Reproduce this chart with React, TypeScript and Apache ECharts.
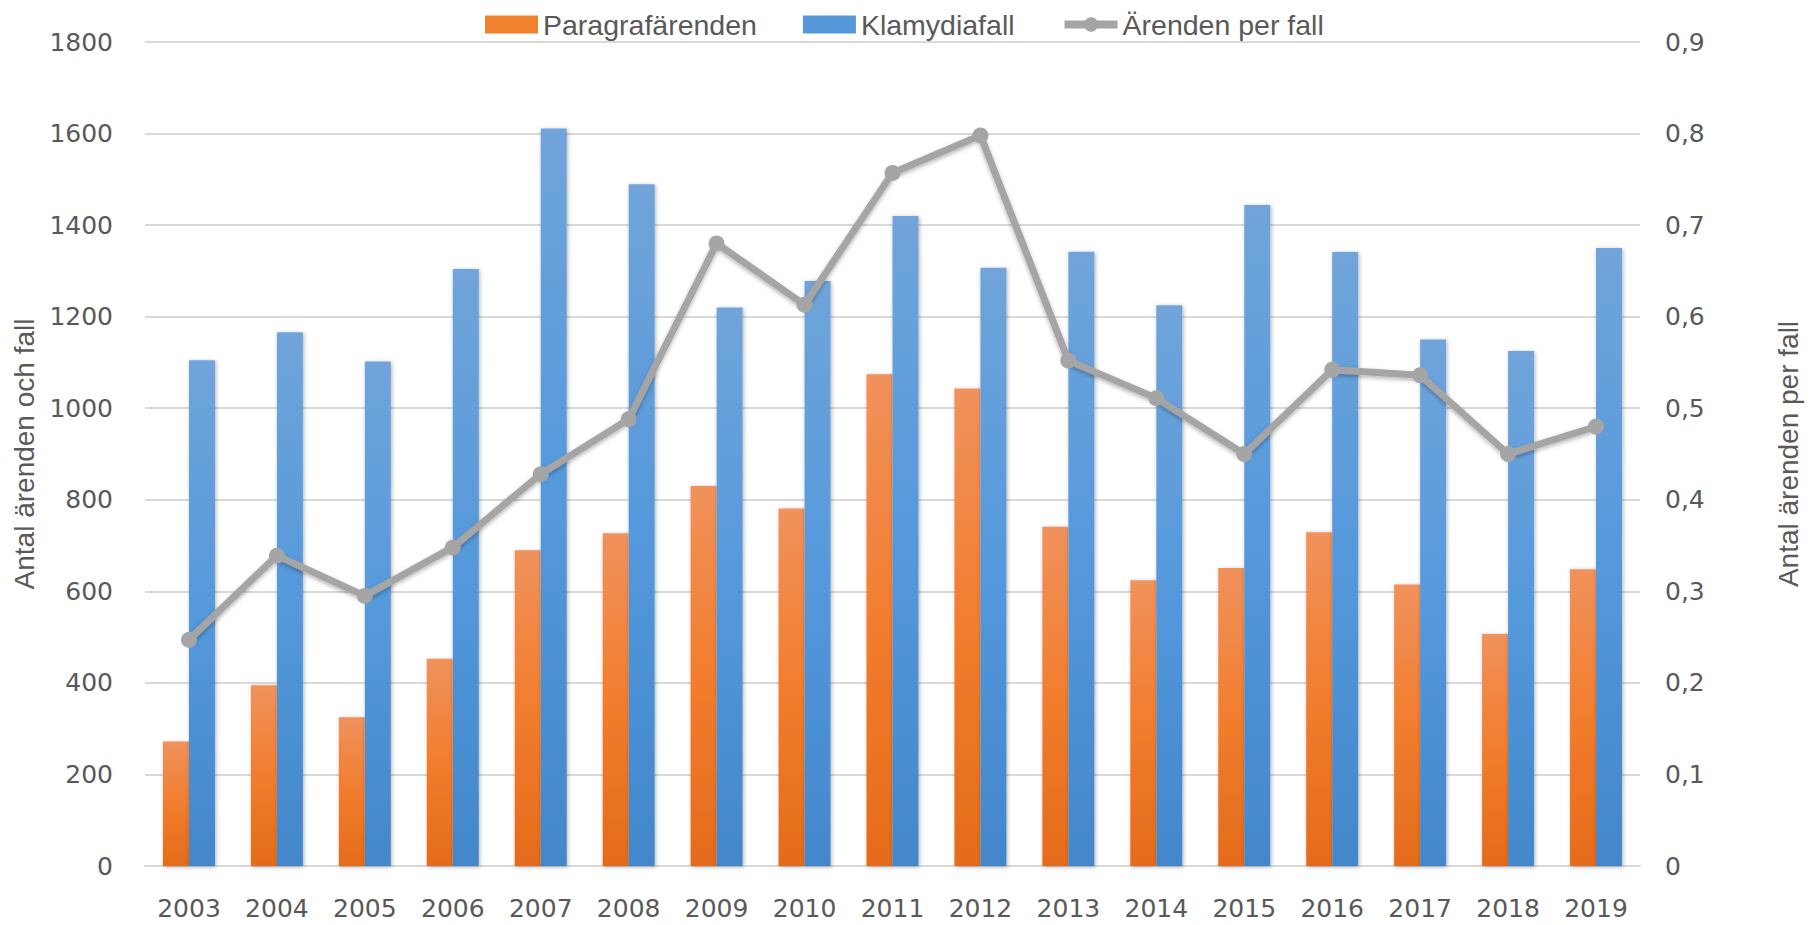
import React, { useEffect, useRef } from "react";
import * as echarts from "echarts";

const years = ["2003","2004","2005","2006","2007","2008","2009","2010","2011","2012","2013","2014","2015","2016","2017","2018","2019"];
const paragrafarenden = [272, 395, 325, 453, 690, 727, 830, 781, 1074, 1043, 741, 624, 651, 729, 615, 507, 648];
const klamydiafall = [1105, 1166, 1102, 1304, 1611, 1489, 1220, 1278, 1420, 1307, 1342, 1225, 1444, 1341, 1150, 1125, 1350];
const arendenPerFall = [0.247, 0.339, 0.295, 0.348, 0.428, 0.488, 0.680, 0.613, 0.757, 0.798, 0.552, 0.511, 0.450, 0.542, 0.536, 0.450, 0.480];

const labelColor = "#595959";
const gridColor = "#D9D9D9";
const narrowFont = "Liberation Sans Narrow, Liberation Sans, sans-serif";

export default function App() {
  const ref = useRef<HTMLDivElement>(null);
  useEffect(() => {
    if (!ref.current) return;
    const chart = echarts.init(ref.current, null, { renderer: "svg" });
    const orangeGrad = new echarts.graphic.LinearGradient(0, 0, 0, 1, [
      { offset: 0, color: "#F0925C" },
      { offset: 0.5, color: "#F27D2E" },
      { offset: 1, color: "#E46B1A" },
    ]);
    const blueGrad = new echarts.graphic.LinearGradient(0, 0, 0, 1, [
      { offset: 0, color: "#70A4DA" },
      { offset: 0.5, color: "#5599DC" },
      { offset: 1, color: "#4387CB" },
    ]);
    chart.setOption({
      animation: false,
      backgroundColor: "#FFFFFF",
      legend: {
        top: 5,
        left: 480,
        itemWidth: 53,
        itemHeight: 18,
        itemGap: 46,
        textStyle: { fontFamily: narrowFont, fontSize: 28.5, color: labelColor },
        data: [
          { name: "Paragrafärenden", icon: "rect", itemStyle: { color: "#F0812E" } },
          { name: "Klamydiafall", icon: "rect", itemStyle: { color: "#5597D8" } },
          { name: "Ärenden per fall", lineStyle: { width: 8, color: "#A5A5A5" }, itemStyle: { color: "#A5A5A5" } },
        ],
      },
      grid: { left: 145, right: 173, top: 42, bottom: 59, containLabel: false, outerBoundsMode: "none" },
      xAxis: {
        type: "category",
        data: years,
        axisLine: { lineStyle: { color: gridColor, width: 2 } },
        axisTick: { show: false },
        axisLabel: { color: labelColor, fontFamily: "DejaVu Sans", fontSize: 25, margin: 30 },
      },
      yAxis: [
        {
          type: "value",
          min: 0,
          max: 1800,
          interval: 200,
          name: "Antal ärenden och fall",
          nameLocation: "middle",
          nameGap: 104,
          nameTextStyle: { color: labelColor, fontFamily: narrowFont, fontSize: 28 },
          axisLine: { show: false },
          axisTick: { show: false },
          splitLine: { lineStyle: { color: gridColor, width: 2 } },
          axisLabel: { color: labelColor, fontFamily: "DejaVu Sans", fontSize: 25, margin: 32, formatter: (v: number) => String(v) },
        },
        {
          type: "value",
          min: 0,
          max: 0.9,
          interval: 0.1,
          position: "right",
          name: "Antal ärenden per fall",
          nameLocation: "middle",
          nameGap: 134,
          nameRotate: 90,
          nameTextStyle: { color: labelColor, fontFamily: narrowFont, fontSize: 28 },
          axisLine: { show: false },
          axisTick: { show: false },
          splitLine: { show: false },
          axisLabel: {
            color: labelColor,
            fontFamily: "DejaVu Sans",
            fontSize: 25,
            margin: 25,
            formatter: (v: number) => (v === 0 ? "0" : v.toFixed(1).replace(".", ",")),
          },
        },
      ],
      series: [
        {
          name: "Paragrafärenden",
          type: "bar",
          data: paragrafarenden,
          barWidth: 26,
          barGap: "0%",
          itemStyle: { color: orangeGrad, shadowBlur: 4, shadowColor: "rgba(0,0,0,0.3)", shadowOffsetX: 1, shadowOffsetY: 1 },
        },
        {
          name: "Klamydiafall",
          type: "bar",
          data: klamydiafall,
          barWidth: 26,
          barGap: "0%",
          itemStyle: { color: blueGrad, shadowBlur: 4, shadowColor: "rgba(0,0,0,0.3)", shadowOffsetX: 1, shadowOffsetY: 1 },
        },
        {
          name: "Ärenden per fall",
          type: "line",
          yAxisIndex: 1,
          data: arendenPerFall,
          symbol: "circle",
          symbolSize: 16,
          lineStyle: { color: "#A5A5A5", width: 7, shadowBlur: 4, shadowColor: "rgba(0,0,0,0.3)", shadowOffsetY: 2 },
          itemStyle: { color: "#A5A5A5" },
          z: 5,
        },
      ],
    });
    return () => chart.dispose();
  }, []);
  return <div ref={ref} style={{ position: "fixed", left: 0, top: 0, width: 1813, height: 925, background: "#fff" }} />;
}
